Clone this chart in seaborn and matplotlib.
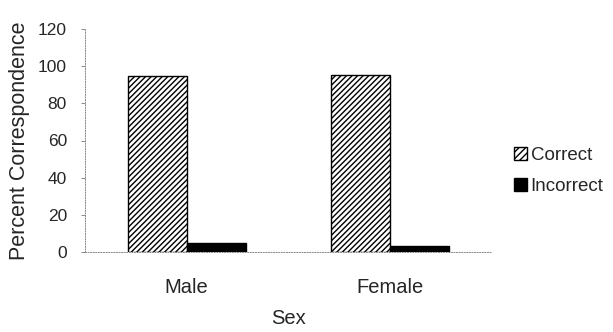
import matplotlib
matplotlib.use("Agg")
import matplotlib.pyplot as plt
import seaborn as sns
import pandas as pd
from matplotlib.patches import Patch

sns.set_style("white")
plt.rcParams['font.family'] = ['Liberation Sans', 'DejaVu Sans']
plt.rcParams['hatch.linewidth'] = 1.0

sexes = ["Male", "Female"]
correct = [94.5, 95.5]
incorrect = [5, 3]

df = pd.DataFrame({
    "Sex": sexes * 2,
    "Result": ["Correct"] * 2 + ["Incorrect"] * 2,
    "Percent": correct + incorrect,
})

fig = plt.figure(figsize=(6.13, 3.32), dpi=100)
ax = fig.add_axes([85 / 613, 1 - 252 / 332, 407 / 613, 223 / 332])

sns.barplot(data=df, x="Sex", y="Percent", hue="Result", ax=ax,
            palette={"Correct": "white", "Incorrect": "black"},
            width=0.58, edgecolor="black", linewidth=1.0, legend=False)

# hatch the "Correct" bars
for bar in ax.containers[0]:
    bar.set_hatch("//////")

ax.set_ylim(0, 120)
ax.set_xlim(-0.5, 1.5)
ax.set_yticks(range(0, 121, 20))
ax.set_xlabel("Sex", fontsize=14.5, labelpad=9)
ax.set_ylabel("Percent Correspondence", fontsize=15.5, labelpad=6)
ax.tick_params(axis="y", labelsize=12.5, left=True, length=3, width=0.6, color="#777777", pad=10)
ax.tick_params(axis="x", labelsize=14.5, bottom=False, pad=15)

for side in ["top", "right"]:
    ax.spines[side].set_visible(False)
for side in ["left", "bottom"]:
    ax.spines[side].set_color("#888888")
    ax.spines[side].set_linewidth(0.7)
    ax.spines[side].set_linestyle(":")

handles = [Patch(facecolor="white", edgecolor="black", hatch="/////", label="Correct"),
           Patch(facecolor="black", edgecolor="black", label="Incorrect")]
fig.legend(handles=handles, loc="center left", bbox_to_anchor=(497 / 613, 1 - 171 / 332),
           frameon=False, fontsize=13.5, handlelength=0.7, handleheight=0.7,
           handletextpad=0.2, labelspacing=0.7)

fig.savefig("out.png", dpi=100)
